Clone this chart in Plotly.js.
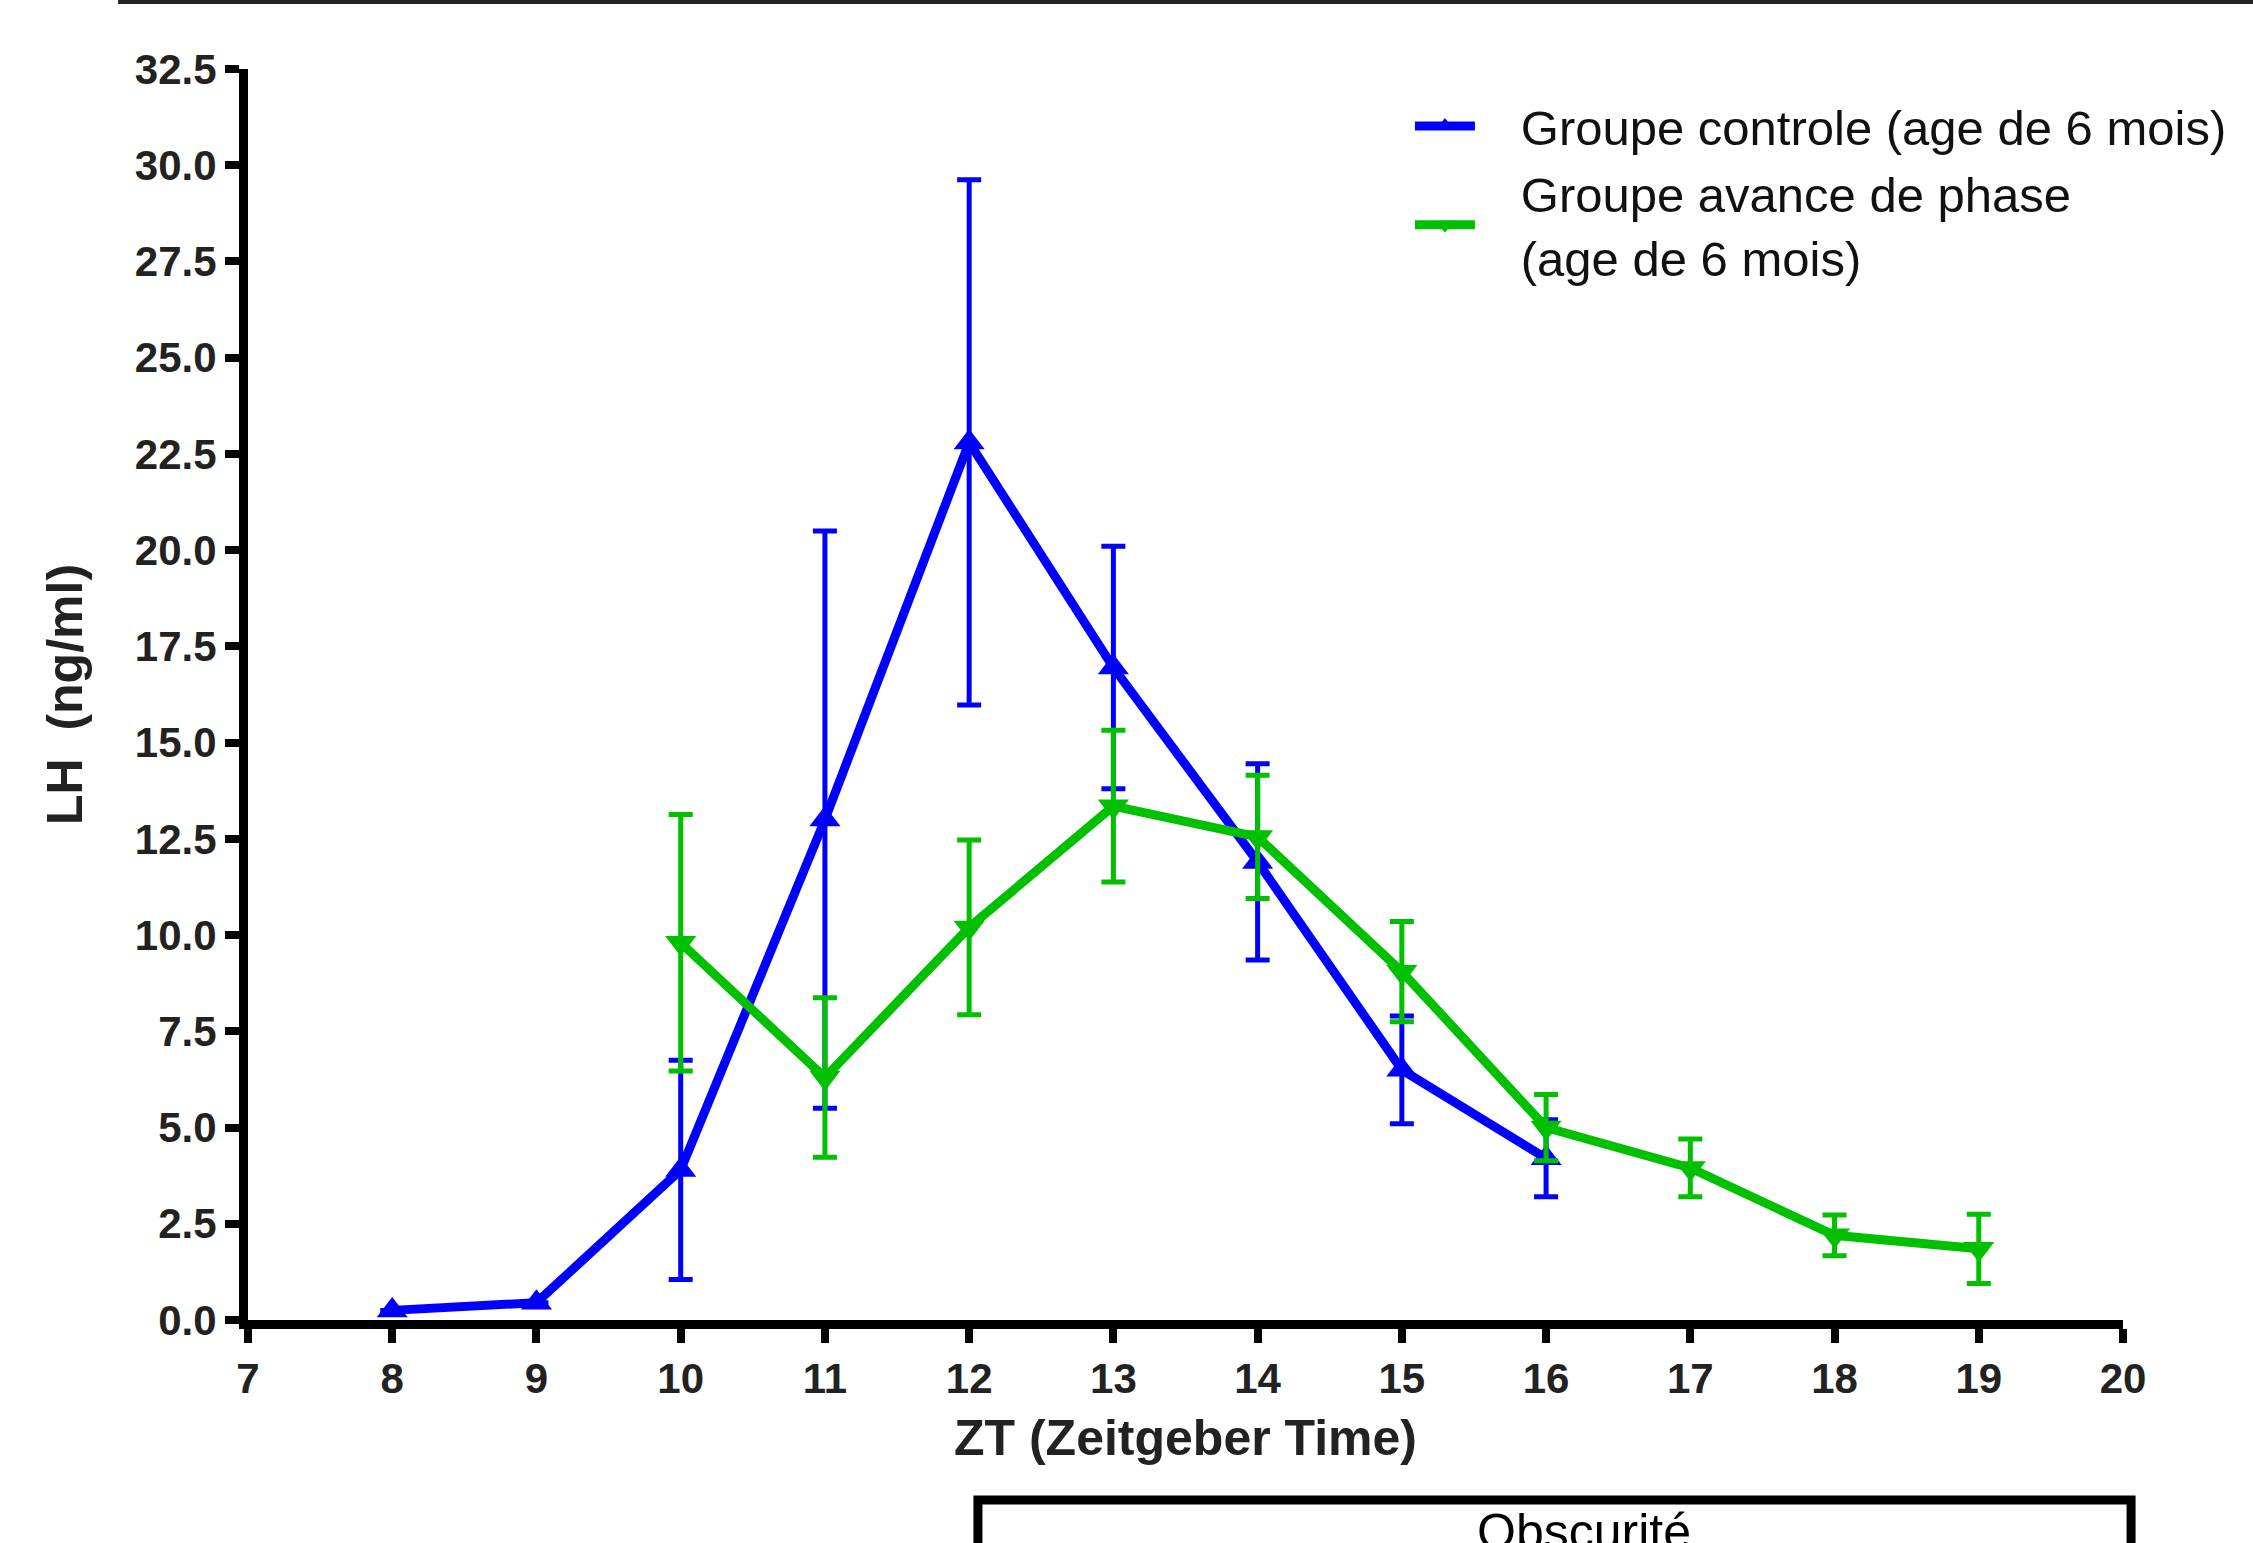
<!DOCTYPE html>
<html>
<head>
<meta charset="utf-8">
<script src="https://cdn.plot.ly/plotly-3.0.1.min.js"></script>
<style>html,body{margin:0;padding:0;background:#fff;}#chart{width:2253px;height:1543px;}</style>
</head>
<body>
<div id="chart"></div>
<script>
// ZT hours
const ztControl = [8, 9, 10, 11, 12, 13, 14, 15, 16];
const lhControl = [0.25, 0.45, 3.9, 13.0, 22.8, 16.95, 11.9, 6.5, 4.2];
const semControl = [0, 0, 2.85, 7.5, 6.82, 3.15, 2.55, 1.4, 1.0];

const ztPhase = [10, 11, 12, 13, 14, 15, 16, 17, 18, 19];
const lhPhase = [9.8, 6.3, 10.2, 13.35, 12.55, 9.05, 5.0, 3.95, 2.2, 1.85];
const semPhase = [3.33, 2.07, 2.27, 1.97, 1.6, 1.3, 0.86, 0.75, 0.53, 0.9];

const PAD = "\u00a0\u00a0\u00a0";
const nameControl = PAD + "Groupe controle (age de 6 mois)";
const namePhase = PAD + "Groupe avance de phase<br>" + PAD + "(age de 6 mois)";

const xTicks = [7, 8, 9, 10, 11, 12, 13, 14, 15, 16, 17, 18, 19, 20];
const yTicks = [0, 2.5, 5, 7.5, 10, 12.5, 15, 17.5, 20, 22.5, 25, 27.5, 30, 32.5];

const FONT = "'Liberation Sans', Arial, sans-serif";
const BLUE = "#0000ff";
const GREEN = "#00c000";

const traces = [
  {
    x: ztControl, y: lhControl, name: nameControl, type: "scatter", mode: "lines+markers",
    line: {color: BLUE, width: 9},
    marker: {symbol: "triangle-up", size: 27, color: BLUE},
    error_y: {type: "data", array: semControl, visible: true, color: BLUE, thickness: 5, width: 12},
    cliponaxis: false
  },
  {
    x: ztPhase, y: lhPhase, name: namePhase, type: "scatter", mode: "lines+markers",
    line: {color: GREEN, width: 9},
    marker: {symbol: "triangle-down", size: 27, color: GREEN},
    error_y: {type: "data", array: semPhase, visible: true, color: GREEN, thickness: 5, width: 12},
    cliponaxis: false
  }
];

const layout = {
  width: 2253, height: 1543,
  paper_bgcolor: "#ffffff", plot_bgcolor: "#ffffff",
  margin: {l: 248, r: 130, t: 69, b: 223, pad: 0, autoexpand: false},
  font: {family: FONT, color: "#000"},
  showlegend: true,
  legend: {
    x: 0.6197, y: 0.985, xanchor: "left", yanchor: "top",
    font: {family: FONT, size: 49, color: "#111"},
    bgcolor: "rgba(0,0,0,0)", itemwidth: 60, tracegroupgap: 0
  },
  xaxis: {
    range: [7, 20], tickvals: xTicks, ticktext: xTicks.map(String),
    showline: true, linecolor: "#000", linewidth: 9,
    ticks: "outside", ticklen: 14, tickwidth: 8, tickcolor: "#000",
    showgrid: false, zeroline: false,
    tickfont: {family: FONT, size: 42, color: "#222", weight: "bold"},
    title: {text: "<b>ZT (Zeitgeber Time)</b>", font: {family: FONT, size: 50, color: "#222"}, standoff: 22}
  },
  yaxis: {
    range: [0, 32.5], tickvals: yTicks, ticktext: yTicks.map(v => v.toFixed(1)),
    showline: true, linecolor: "#000", linewidth: 9,
    ticks: "outside", ticklen: 14, tickwidth: 8, tickcolor: "#000",
    showgrid: false, zeroline: false,
    tickfont: {family: FONT, size: 42, color: "#222", weight: "bold"},
    title: {text: "<b>LH  (ng/ml)</b>", font: {family: FONT, size: 50, color: "#222"}, standoff: 40}
  },
  shapes: [
    {type: "line", xref: "paper", yref: "paper", x0: -0.0693, x1: 1.07, y0: 1.0536, y1: 1.0536,
     line: {color: "#222", width: 4}},
    {type: "path", xref: "paper", yref: "paper",
     path: "M 0.3893,-0.26 L 0.3893,-0.1439 L 1.0043,-0.1439 L 1.0043,-0.26",
     line: {color: "#000", width: 9}}
  ],
  annotations: [
    {xref: "paper", yref: "paper", x: 0.7125, y: -0.1439, xanchor: "center", yanchor: "top",
     yshift: -2, text: "Obscurité", showarrow: false,
     font: {family: FONT, size: 50, color: "#000"}}
  ]
};

Plotly.newPlot("chart", traces, layout, {displayModeBar: false, staticPlot: true});
</script>
</body>
</html>
